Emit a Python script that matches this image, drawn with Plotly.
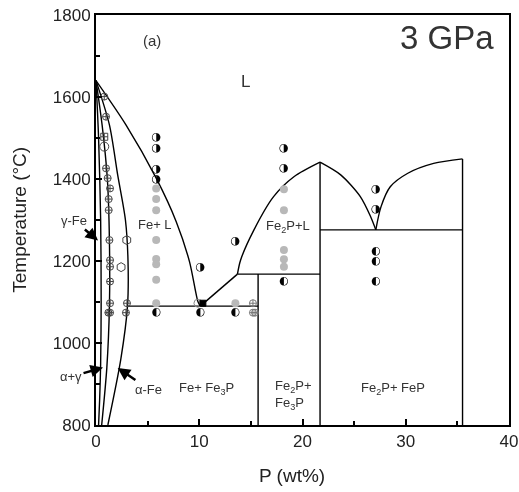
import plotly.graph_objects as go

# ---------------- data (P in wt%, T in °C) ----------------
liq_fe_P = [0, 2.9, 5.83, 7.77, 9.06, 9.87, 10.1]
liq_fe_T = [1640, 1532, 1402, 1296, 1198, 1101, 1090]

lineA_P = [0, 0.25, 0.45, 0.5, 0.45, 0.35, 0.25]
lineA_T = [1640, 1500, 1300, 1100, 950, 860, 800]

lineB_P = [0, 0.6, 1.1, 1.3, 1.3, 1.05, 0.55]
lineB_T = [1640, 1530, 1400, 1250, 1090, 940, 800]

lineC_P = [0, 1.3, 2.1, 2.85, 3.1, 3.05, 2.4, 1.15]
lineC_T = [1640, 1532, 1410, 1300, 1200, 1090, 960, 800]

eut_P = [3.05, 15.7]
eut_T = [1090, 1090]

fe3p_liq_P = [10.1, 13.7]
fe3p_liq_T = [1090, 1168]

perit_P = [13.7, 21.7]
perit_T = [1168, 1168]

fe3p_vert_P = [15.7, 15.7]
fe3p_vert_T = [800, 1168]

fe2p_left_P = [13.7, 14.0, 15.3, 17.2, 19.2, 21.7]
fe2p_left_T = [1168, 1202, 1276, 1357, 1406, 1441]

fe2p_vert_P = [21.7, 21.7]
fe2p_vert_T = [800, 1441]

fe2p_right_P = [21.7, 23.7, 25.6, 26.6, 27.1]
fe2p_right_T = [1441, 1410, 1357, 1308, 1276]

fep_liq_P = [27.1, 27.6, 28.5, 30.2, 32.7, 35.5]
fep_liq_T = [1276, 1332, 1381, 1414, 1438, 1449]

eut2_P = [21.7, 35.5]
eut2_T = [1276, 1276]

fep_vert_P = [35.5, 35.5]
fep_vert_T = [800, 1449]

# experiment markers
cross_P = [0.8, 0.97, 0.97, 1.13, 1.36, 1.23, 1.23, 1.3, 1.36, 1.36, 1.36, 1.36, 1.2, 1.36, 3.0, 2.9]
cross_T = [1601, 1552, 1426, 1402, 1377, 1351, 1324, 1251, 1202, 1186, 1150, 1097, 1074, 1074, 1097, 1074]

sqcross_P = [0.8]
sqcross_T = [1503]

opencirc_P = [0.8]
opencirc_T = [1479]

hex_P = [2.98, 2.43]
hex_T = [1251, 1185]

gray_P = [5.83] * 8 + [13.5] + [18.2] * 5
gray_T = [1377, 1351, 1324, 1251, 1205, 1192, 1154, 1097, 1097, 1375, 1324, 1227, 1204, 1186]

graycross_P = [15.2, 15.4, 15.2]
graycross_T = [1097, 1074, 1074]

upper_half_P = [5.83, 5.83, 5.83, 5.83, 10.1, 13.5, 18.2, 18.2, 27.1, 27.1]
upper_half_T = [1501, 1476, 1424, 1399, 1184, 1249, 1475, 1426, 1375, 1326]

lower_half_P = [5.83, 10.1, 13.5, 18.2, 27.1, 27.1, 27.1]
lower_half_T = [1074, 1074, 1074, 1150, 1225, 1200, 1150]

eut_open_P = [9.87]
eut_open_T = [1097]
eut_sq_P = [10.35]
eut_sq_T = [1097]

x_ticks = [0, 10, 20, 30, 40]
y_ticks = [800, 1000, 1200, 1400, 1600, 1800]

# ---------------- figure ----------------
fig = go.Figure()


def add_line(P, T, spline=False):
    fig.add_trace(go.Scatter(
        x=P, y=T, mode="lines",
        line=dict(color="black", width=1.4, shape="spline" if spline else "linear",
                  smoothing=0.8),
        hoverinfo="skip", showlegend=False))

add_line(liq_fe_P, liq_fe_T, True)
add_line(lineA_P, lineA_T, True)
add_line(lineB_P, lineB_T, True)
add_line(lineC_P, lineC_T, True)
add_line(eut_P, eut_T)
add_line(fe3p_liq_P, fe3p_liq_T)
add_line(perit_P, perit_T)
add_line(fe3p_vert_P, fe3p_vert_T)
add_line(fe2p_left_P, fe2p_left_T, True)
add_line(fe2p_vert_P, fe2p_vert_T)
add_line(fe2p_right_P, fe2p_right_T, True)
add_line(fep_liq_P, fep_liq_T, True)
add_line(eut2_P, eut2_T)
add_line(fep_vert_P, fep_vert_T)


def add_markers(P, T, symbol, color="black", size=8, fill="white", lw=1):
    fig.add_trace(go.Scatter(
        x=P, y=T, mode="markers",
        marker=dict(symbol=symbol, size=size, color=fill,
                    line=dict(color=color, width=lw)),
        hoverinfo="skip", showlegend=False, cliponaxis=False))

add_markers(gray_P, gray_T, "circle", color="#b8b8b8", fill="#b8b8b8", size=8, lw=0)
add_markers(cross_P, cross_T, "circle-cross-open", color="#444", fill="#444", size=7)
add_markers(sqcross_P, sqcross_T, "square-cross-open", color="#444", fill="#444", size=7)
add_markers(opencirc_P, opencirc_T, "circle-open", color="#444", fill="#444", size=9)
add_markers(hex_P, hex_T, "hexagon-open", color="#444", fill="#444", size=9)
add_markers(graycross_P, graycross_T, "circle-cross-open", color="#777", fill="#777", size=7)
add_markers(eut_open_P, eut_open_T, "circle-open", color="#888", fill="#888", size=8)
add_markers(eut_sq_P, eut_sq_T, "square", color="black", fill="black", size=6)


def add_half(P, T, glyph):
    fig.add_trace(go.Scatter(
        x=P, y=T, mode="text", text=[glyph] * len(P),
        textposition="middle center", opacity=0.99,
        textfont=dict(family="DejaVu Sans", size=11, color="black"),
        hoverinfo="skip", showlegend=False, cliponaxis=False))

add_half(upper_half_P, upper_half_T, "◑")
add_half(lower_half_P, lower_half_T, "◐")

FAM = "Liberation Sans, Arial, sans-serif"
TXT = dict(family=FAM, color="#333")


def label(P, T, text, size=13, **kw):
    fig.add_annotation(x=P, y=T, text=text, showarrow=False,
                       font=dict(size=size, **TXT), **kw)

label(5.44, 1739, "(a)", 15)
label(34.0, 1745, "3 GPa", 33)
label(14.5, 1639, "L", 17)
label(5.7, 1288, "Fe+ L", 13)
label(18.6, 1283, "Fe<sub>2</sub>P+L", 13)
label(10.7, 888, "Fe+ Fe<sub>3</sub>P", 13)
label(17.1, 873, "Fe<sub>2</sub>P+<br>Fe<sub>3</sub>P", 13, xanchor="left", align="left")
label(28.8, 890, "Fe<sub>2</sub>P+ FeP", 13)


def arrow_label(P, T, text, ax, ay):
    fig.add_annotation(x=P, y=T, text=text, showarrow=True,
                       ax=ax, ay=ay, arrowhead=2, arrowsize=1, arrowwidth=2.5,
                       arrowcolor="black", standoff=0,
                       font=dict(size=13, **TXT))

arrow_label(0.2, 1250, "γ-Fe", -24, -20)
arrow_label(0.68, 940, "α+γ", -32, 9)
arrow_label(2.1, 939, "α-Fe", 31, 21)

# axis titles placed as annotations for precise position
fig.add_annotation(x=19.0, xref="x", y=-0.124, yref="paper", text="P (wt%)",
                   showarrow=False, yanchor="middle",
                   font=dict(size=19, family=FAM, color="#222"))
fig.add_annotation(x=-0.187, xref="paper", y=0.5, yref="paper", text="Temperature (°C)",
                   showarrow=False, textangle=-90, xanchor="center", yanchor="middle",
                   font=dict(size=19, family=FAM, color="#222"))

fig.update_layout(
    width=519, height=492,
    margin=dict(l=96, r=10, t=15, b=67, autoexpand=False),
    paper_bgcolor="white", plot_bgcolor="white",
    font=dict(family=FAM, color="#222"),
    showlegend=False,
)
fig.update_xaxes(
    range=[0, 40], tickvals=x_ticks, ticktext=[str(v) for v in x_ticks],
    ticks="inside", ticklen=6, tickwidth=1.5, tickcolor="black",
    minor=dict(ticks="inside", ticklen=4, dtick=5, tickcolor="black", tickwidth=1.5),
    showline=True, linewidth=2, linecolor="black", mirror=True,
    showgrid=False, zeroline=False, automargin=False,
    tickfont=dict(size=17, color="#222"),
)
fig.update_yaxes(
    range=[800, 1800], tickvals=y_ticks, ticktext=[str(v) for v in y_ticks],
    ticks="inside", ticklen=6, tickwidth=1.5, tickcolor="black",
    minor=dict(ticks="inside", ticklen=4, dtick=100, tickcolor="black", tickwidth=1.5),
    showline=True, linewidth=2, linecolor="black", mirror=True,
    showgrid=False, zeroline=False, automargin=False,
    tickfont=dict(size=17, color="#222"),
)

fig.write_html(
    "out.html",
    config={"displayModeBar": False},
    post_script="document.body.style.margin='0px';document.body.style.overflow='hidden';",
)
